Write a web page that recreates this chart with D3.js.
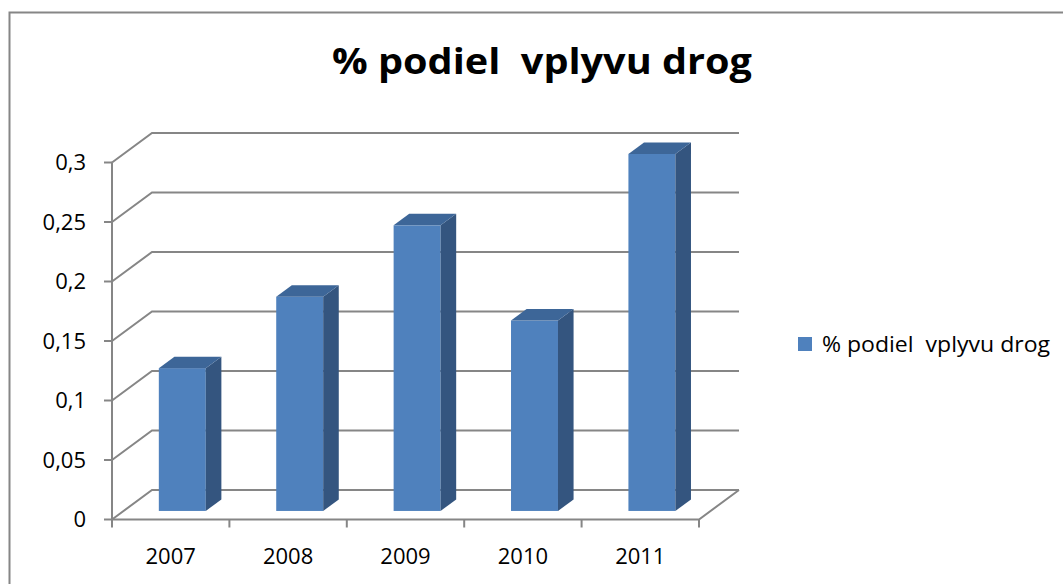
<!DOCTYPE html>
<html>
<head>
<meta charset="utf-8">
<script src="https://cdn.jsdelivr.net/npm/d3@7"></script>
<style>
  body { margin: 0; background: #fff; }
  svg { display: block; }
  text { white-space: pre; }
</style>
</head>
<body>
<svg id="chart" width="1063" height="584"></svg>
<script>
const title = "% podiel  vplyvu drog";
const years = ["2007", "2008", "2009", "2010", "2011"];
const values = [0.12, 0.18, 0.24, 0.16, 0.30];
const yTicks = [0, 0.05, 0.1, 0.15, 0.2, 0.25, 0.3];

const svg = d3.select("#chart");
const font = "'Open Sans', 'Liberation Sans', sans-serif";

// depth offset of the back wall
const dx = 40, dy = -29.5;

const x = d3.scaleBand().domain(years).range([112, 699]);
const y = d3.scaleLinear().domain([0, 0.3]).range([519.5, 162.5]);

// chart frame
svg.append("rect")
  .attr("x", 9.5).attr("y", 12.5)
  .attr("width", 1100).attr("height", 600)
  .attr("fill", "none").attr("stroke", "#868686").attr("stroke-width", 2);

// title
svg.append("text")
  .attr("x", 542).attr("y", 74)
  .attr("text-anchor", "middle")
  .attr("font-family", font).attr("font-weight", "bold")
  .attr("font-size", 36)
  .attr("textLength", 420).attr("lengthAdjust", "spacingAndGlyphs")
  .text(title);

const grid = svg.append("g")
  .attr("stroke", "#868686").attr("stroke-width", 2).attr("fill", "none");

// back wall gridlines + side wall diagonals
yTicks.forEach((t) => {
  const yf = y(t);
  grid.append("path")
    .attr("d", `M${x.range()[0]},${yf}L${x.range()[0] + dx},${yf + dy}L${x.range()[1] + dx},${yf + dy}`);
});

// floor front edge and right side
grid.append("path")
  .attr("d", `M${x.range()[0]},${y(0)}L${x.range()[1]},${y(0)}L${x.range()[1] + dx},${y(0) + dy}`);

// front value axis
grid.append("line")
  .attr("x1", 112).attr("x2", 112)
  .attr("y1", y(0.3)).attr("y2", y(0));

// y ticks and labels
yTicks.forEach((t) => {
  grid.append("line")
    .attr("x1", 104).attr("x2", 112)
    .attr("y1", y(t)).attr("y2", y(t));
  svg.append("text")
    .attr("x", 86).attr("y", y(t))
    .attr("dy", "0.35em")
    .attr("text-anchor", "end")
    .attr("font-family", font).attr("font-size", 22)
    .text(String(t).replace(".", ","));
});

// x ticks
const xEdges = years.map((d) => x(d)).concat([x.range()[1]]);
xEdges.forEach((xe) => {
  grid.append("line")
    .attr("x1", xe).attr("x2", xe)
    .attr("y1", y(0)).attr("y2", y(0) + 8);
});

years.forEach((d) => {
  svg.append("text")
    .attr("x", x(d) + x.bandwidth() / 2).attr("y", 564)
    .attr("text-anchor", "middle")
    .attr("font-family", font).attr("font-size", 22)
    .text(d);
});

// 3D bars
const t0 = 0.29, depth = 0.39;
const barW = x.bandwidth() * 0.4;
const ox = t0 * dx, oy = t0 * dy;
const bx = depth * dx, by = depth * dy;

const bars = svg.append("g");
years.forEach((d, i) => {
  const x0 = x(d) + x.bandwidth() / 2 - barW / 2 + ox;
  const x1 = x0 + barW;
  const yb = y(0) + oy;
  const yt = y(values[i]) + oy;
  const g = bars.append("g");
  g.append("rect")
    .attr("x", x0).attr("y", yt)
    .attr("width", barW).attr("height", yb - yt)
    .attr("fill", "#4F81BD");
  g.append("path")
    .attr("d", `M${x1},${yt}L${x1 + bx},${yt + by}L${x1 + bx},${yb + by}L${x1},${yb}Z`)
    .attr("fill", "#34557F");
  g.append("path")
    .attr("d", `M${x0},${yt}L${x0 + bx},${yt + by}L${x1 + bx},${yt + by}L${x1},${yt}Z`)
    .attr("fill", "#3D6698");
});

// legend
svg.append("rect")
  .attr("x", 798).attr("y", 337)
  .attr("width", 14).attr("height", 14)
  .attr("fill", "#4F81BD");
svg.append("text")
  .attr("x", 822).attr("y", 352)
  .attr("font-family", font).attr("font-size", 21)
  .attr("textLength", 228).attr("lengthAdjust", "spacingAndGlyphs")
  .text(title);
</script>
</body>
</html>
